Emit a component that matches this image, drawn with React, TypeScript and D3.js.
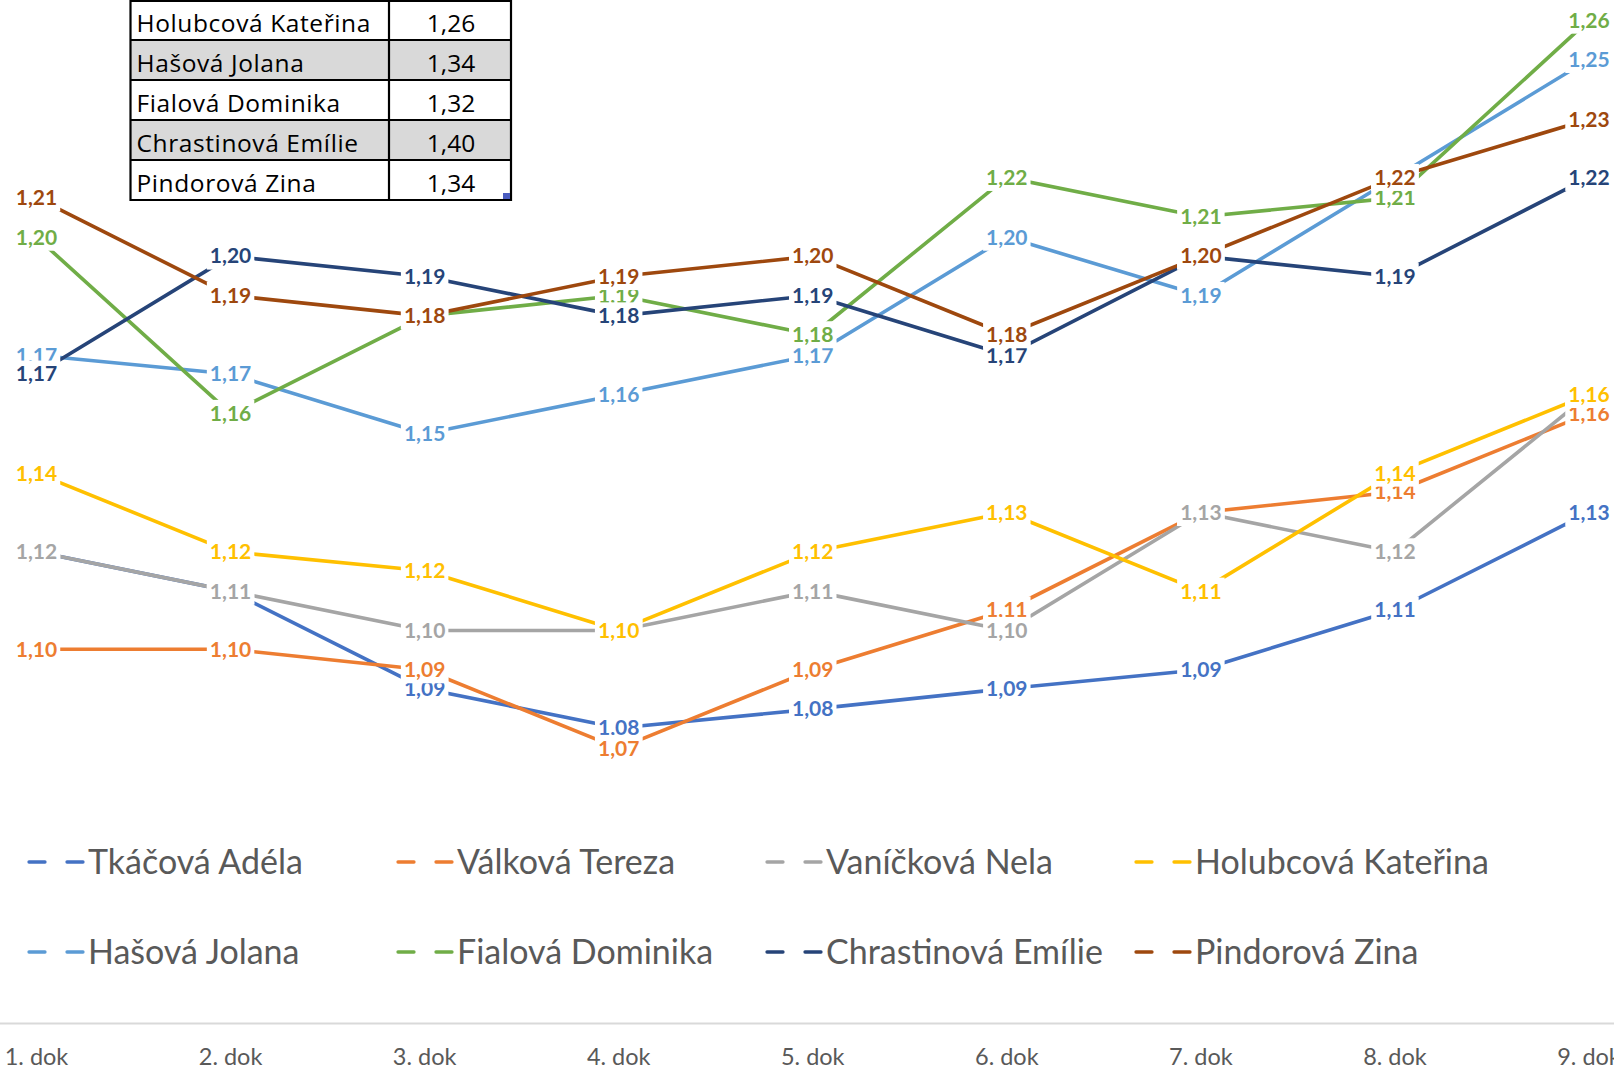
import * as d3 from "d3";
import { useEffect, useRef } from "react";

const categories = ["1. dok", "2. dok", "3. dok", "4. dok", "5. dok", "6. dok", "7. dok", "8. dok", "9. dok"];

const seriesNames = [
    "Tkáčová Adéla", "Válková Tereza", "Vaníčková Nela", "Holubcová Kateřina",
    "Hašová Jolana", "Fialová Dominika", "Chrastinová Emílie", "Pindorová Zina",
];
const seriesColors = ["#4472C4", "#ED7D31", "#A5A5A5", "#FFC000", "#5B9BD5", "#70AD47", "#264478", "#9E480E"];

// averages per test
const tkacova = [1.1224, 1.1124, 1.0876, 1.0776, 1.0824, 1.0876, 1.0924, 1.1076, 1.1324];
const valkova = [1.0976, 1.0976, 1.0924, 1.0724, 1.0924, 1.1076, 1.1324, 1.1376, 1.1576];
const vanickova = [1.1224, 1.1124, 1.1024, 1.1024, 1.1124, 1.1024, 1.1324, 1.1224, 1.1624];
const holubcova = [1.1424, 1.1224, 1.1176, 1.1024, 1.1224, 1.1324, 1.1124, 1.1424, 1.1624];
const hasova = [1.1724, 1.1676, 1.1524, 1.1624, 1.1724, 1.2024, 1.1876, 1.2176, 1.2476];
const fialova = [1.2024, 1.1576, 1.1824, 1.1876, 1.1776, 1.2176, 1.2076, 1.2124, 1.2576];
const chrastinova = [1.1676, 1.1976, 1.1924, 1.1824, 1.1876, 1.1724, 1.1976, 1.1924, 1.2176];
const pindorova = [1.2124, 1.1876, 1.1824, 1.1924, 1.1976, 1.1776, 1.1976, 1.2176, 1.2324];

const seriesValues = [tkacova, valkova, vanickova, holubcova, hasova, fialova, chrastinova, pindorova];

// small table in the top left corner
const tableNames = ["Holubcová Kateřina", "Hašová Jolana", "Fialová Dominika", "Chrastinová Emílie", "Pindorová Zina"];
const tableValues = [1.26, 1.34, 1.32, 1.40, 1.34];

const FONT = "Lato, 'Open Sans', sans-serif";
const TABLE_FONT = "'Open Sans', Lato, sans-serif";
const comma = (v: number) => d3.format(".2f")(v).replace(".", ",");

export default function App() {
    const svgRef = useRef<SVGSVGElement>(null);
    const width = 1614;
    const height = 1070;

    useEffect(() => {
        const svg = d3.select(svgRef.current)
            .attr("width", width)
            .attr("height", height);

        svg.selectAll("*").remove();

        const x = d3.scalePoint<string>()
            .domain(categories)
            .range([36.5, 1589]);

        const y = d3.scaleLinear()
            .domain([1.05, 1.27])
            .range([836.5, -28.6]);

        svg.append("rect").attr("width", width).attr("height", height).attr("fill", "white");

        // category axis
        svg.append("line")
            .attr("x1", 0).attr("x2", width)
            .attr("y1", 1023.5).attr("y2", 1023.5)
            .attr("stroke", "#d9d9d9")
            .attr("stroke-width", 2);

        svg.append("g")
            .selectAll("text")
            .data(categories)
            .join("text")
            .attr("x", d => x(d)!)
            .attr("y", 1065)
            .attr("text-anchor", "middle")
            .attr("font-family", FONT)
            .attr("font-size", 23.5)
            .attr("fill", "#595959")
            .text(d => d);

        const line = d3.line<number>()
            .x((d, i) => x(categories[i])!)
            .y(d => y(d));

        svg.append("g")
            .selectAll("path")
            .data(seriesValues)
            .join("path")
            .attr("d", d => line(d))
            .attr("fill", "none")
            .attr("stroke", (d, i) => seriesColors[i])
            .attr("stroke-width", 3.6)
            .attr("stroke-linejoin", "round")
            .attr("stroke-linecap", "round");

        // data labels, white boxes on top of every line
        const labels = svg.append("g");
        seriesValues.forEach((vals, s) => {
            vals.forEach((v, i) => {
                const cx = x(categories[i])!;
                const cy = y(v);
                const g = labels.append("g");
                const box = g.append("rect").attr("fill", "white");
                const t = g.append("text")
                    .attr("x", cx)
                    .attr("y", cy + 7.4)
                    .attr("text-anchor", "middle")
                    .attr("font-family", FONT)
                    .attr("font-weight", "bold")
                    .attr("font-size", 21)
                    .attr("fill", seriesColors[s])
                    .text(comma(v));
                const w = (t.node() as SVGTextElement).getComputedTextLength() + 6;
                box.attr("x", cx - w / 2).attr("y", cy - 13.5).attr("width", w).attr("height", 27);
            });
        });

        // legend
        const legend = svg.append("g");
        seriesNames.forEach((name, i) => {
            const lx = 29 + (i % 4) * 369;
            const ly = 862 + Math.floor(i / 4) * 90;
            const item = legend.append("g");
            [0, 38].forEach(off => {
                item.append("line")
                    .attr("x1", lx + off).attr("x2", lx + off + 16)
                    .attr("y1", ly).attr("y2", ly)
                    .attr("stroke", seriesColors[i])
                    .attr("stroke-width", 3.3)
                    .attr("stroke-linecap", "round");
            });
            item.append("text")
                .attr("x", lx + 59)
                .attr("y", ly + 11.5)
                .attr("font-family", FONT)
                .attr("font-size", 34)
                .attr("fill", "#595959")
                .text(name);
        });

        // table
        const table = svg.append("g");
        const tx0 = 130.5, tx1 = 389, tx2 = 511, rowH = 40;
        table.selectAll("rect")
            .data(tableNames)
            .join("rect")
            .attr("x", tx0)
            .attr("y", (d, i) => i * rowH)
            .attr("width", tx2 - tx0)
            .attr("height", rowH)
            .attr("fill", (d, i) => i % 2 === 1 ? "#d9d9d9" : "white");

        table.selectAll("text.name")
            .data(tableNames)
            .join("text")
            .attr("class", "name")
            .attr("x", 136.5)
            .attr("y", (d, i) => i * rowH + 31.5)
            .attr("font-family", TABLE_FONT)
            .attr("font-size", 24.5)
            .attr("letter-spacing", 0.6)
            .attr("fill", "black")
            .text(d => d);

        table.selectAll("text.val")
            .data(tableValues)
            .join("text")
            .attr("class", "val")
            .attr("x", (tx1 + tx2) / 2 + 1)
            .attr("y", (d, i) => i * rowH + 31.5)
            .attr("text-anchor", "middle")
            .attr("font-family", TABLE_FONT)
            .attr("font-size", 24.5)
            .attr("fill", "black")
            .text(d => comma(d));

        const hLines = d3.range(tableNames.length + 1).map(i => Math.max(1, i * rowH));
        table.selectAll("line.h")
            .data(hLines)
            .join("line")
            .attr("class", "h")
            .attr("x1", tx0).attr("x2", tx2)
            .attr("y1", d => d).attr("y2", d => d)
            .attr("stroke", "black")
            .attr("stroke-width", 2.2);

        table.selectAll("line.v")
            .data([tx0, tx1, tx2])
            .join("line")
            .attr("class", "v")
            .attr("x1", d => d).attr("x2", d => d)
            .attr("y1", 0).attr("y2", tableNames.length * rowH + 1)
            .attr("stroke", "black")
            .attr("stroke-width", 2.2);

        table.append("rect")
            .attr("x", 503).attr("y", 193)
            .attr("width", 7).attr("height", 6)
            .attr("fill", "#4a5cbf");

    }, []);

    return <svg ref={svgRef} style={{ position: "absolute", left: 0, top: 0 }} />;
}
